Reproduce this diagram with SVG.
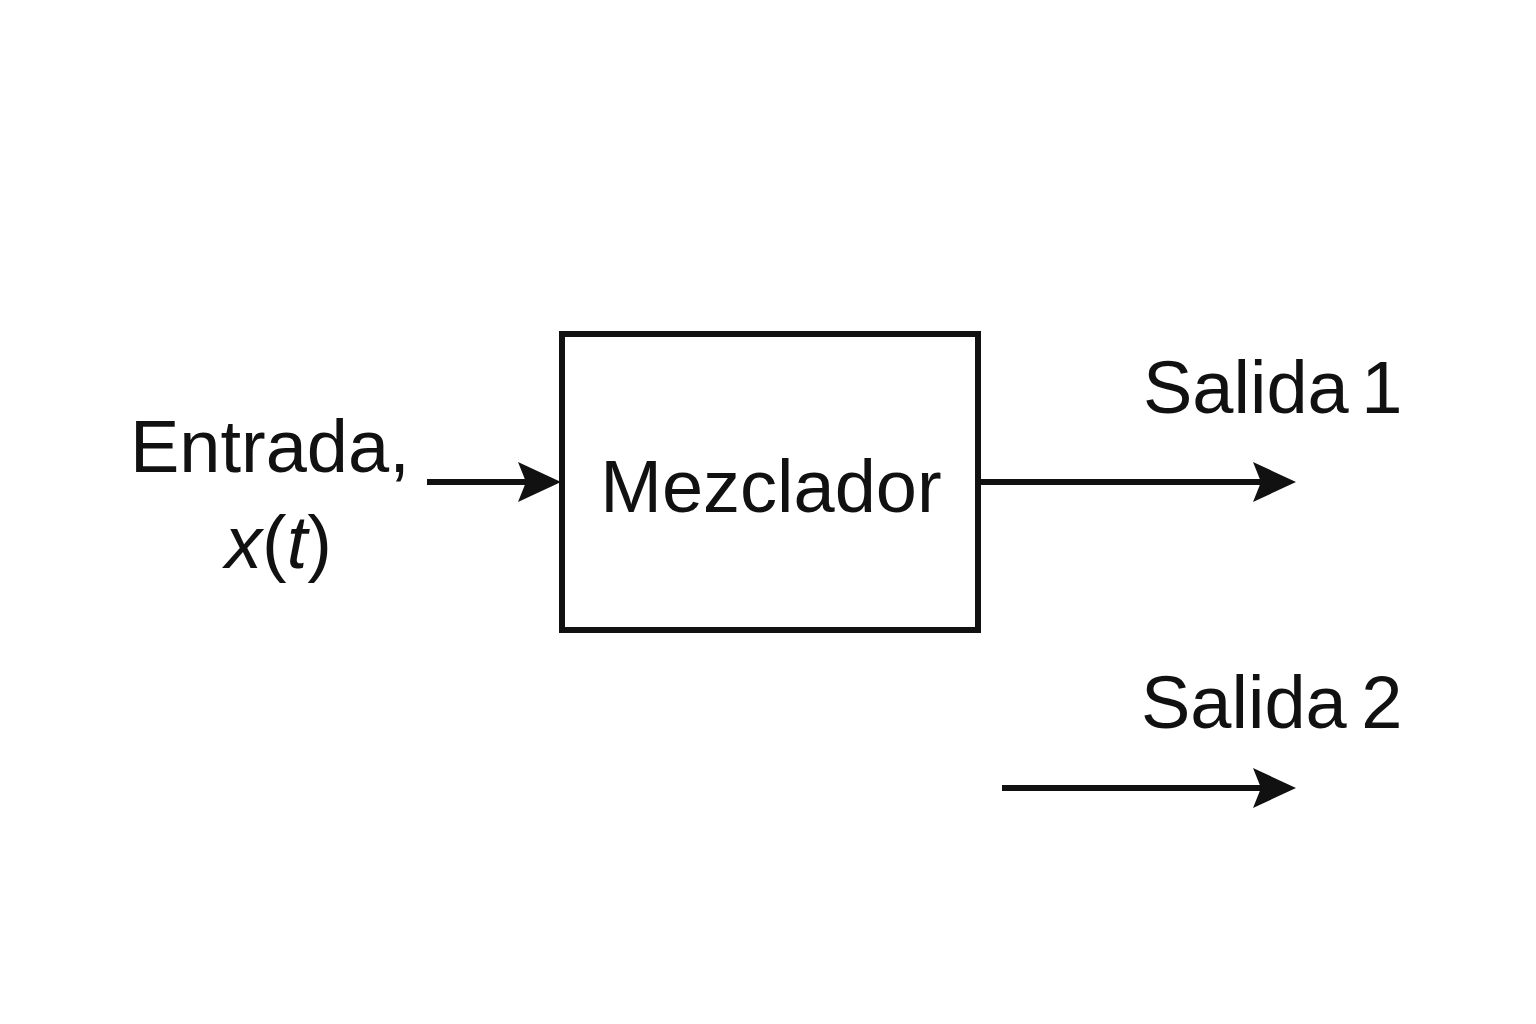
<svg xmlns="http://www.w3.org/2000/svg" width="1536" height="1024" viewBox="0 0 1536 1024">
<style>
.t{font-family:"Liberation Sans",Arial,sans-serif;font-size:74px;fill:#111}
.i{font-style:italic}
.c{stroke:#111;stroke-width:6;fill:none}
</style>
<defs>
<marker id="ah" markerUnits="userSpaceOnUse" markerWidth="44" markerHeight="40" refX="33" refY="20" orient="auto">
<path d="M0,0 L43,20 L0,40 L8,20 Z" fill="#111"/>
</marker>
</defs>
<rect width="1536" height="1024" fill="#fff"/>
<g id="input-label">
<text class="t" x="130" y="472">Entrada,</text>
<text class="t" x="225" y="568"><tspan class="i">x</tspan>(<tspan class="i">t</tspan>)</text>
</g>
<g id="mezclador">
<rect x="562" y="334" width="416" height="296" fill="#fff" stroke="#111" stroke-width="6"/>
<text class="t" x="771" y="512" text-anchor="middle">Mezclador</text>
</g>
<g id="salida1">
<text class="t" x="1143" y="413" word-spacing="-8">Salida 1</text>
</g>
<g id="salida2">
<text class="t" x="1141" y="728" word-spacing="-6">Salida 2</text>
</g>
<g id="connectors">
<line class="c" x1="427" y1="482" x2="551" y2="482" marker-end="url(#ah)"/>
<line class="c" x1="978" y1="482" x2="1286" y2="482" marker-end="url(#ah)"/>
<line class="c" x1="1002" y1="788" x2="1286" y2="788" marker-end="url(#ah)"/>
</g>
</svg>
